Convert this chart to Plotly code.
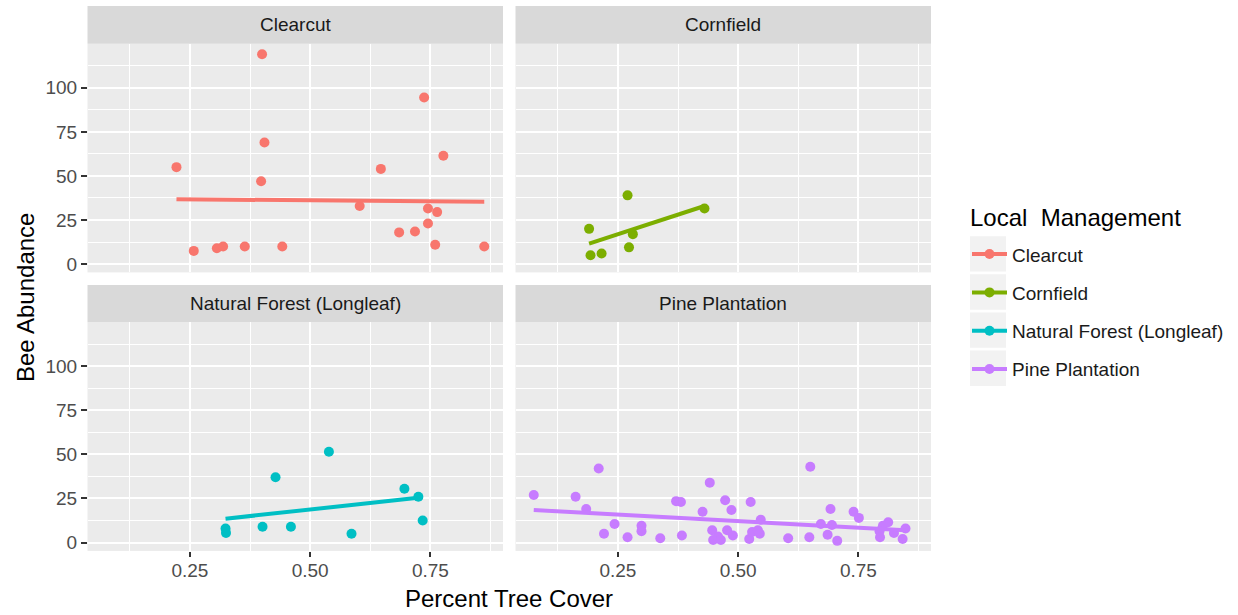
import numpy as np
import plotly.graph_objects as go
from plotly.subplots import make_subplots

W, H = 1238, 615

groups = ["Clearcut", "Cornfield", "Natural Forest (Longleaf)", "Pine Plantation"]
colors = ["#F8766D", "#7CAE00", "#00BFC4", "#C77CFF"]

clearcut_cover = [0.222, 0.258, 0.306, 0.319, 0.364, 0.398, 0.400, 0.405, 0.442, 0.603,
                  0.647, 0.685, 0.718, 0.737, 0.745, 0.745, 0.760, 0.764, 0.777, 0.862]
clearcut_bees = [55, 7.5, 9, 10, 10, 47, 119, 69, 10, 33,
                 54, 18, 18.5, 94.5, 31.5, 23, 11, 29.5, 61.5, 10]

cornfield_cover = [0.190, 0.193, 0.216, 0.270, 0.273, 0.281, 0.430]
cornfield_bees = [20, 5, 6, 39, 9.5, 17, 31.5]

forest_cover = [0.324, 0.325, 0.401, 0.428, 0.460, 0.539, 0.586, 0.696, 0.725, 0.734]
forest_bees = [8, 5.5, 9, 37, 9, 51.5, 5, 30.5, 26, 12.5]

pine_cover = [0.075, 0.162, 0.184, 0.210, 0.221, 0.243, 0.270, 0.299, 0.299, 0.338,
              0.371, 0.381, 0.383, 0.426, 0.441, 0.446, 0.448, 0.458, 0.464, 0.473,
              0.477, 0.486, 0.489, 0.523, 0.526, 0.529, 0.541, 0.545, 0.547, 0.604,
              0.648, 0.650, 0.672, 0.686, 0.692, 0.695, 0.706, 0.740, 0.751, 0.794,
              0.795, 0.801, 0.812, 0.824, 0.842, 0.848]
pine_bees = [27, 26, 19, 42, 5, 10.5, 3, 9.5, 6.5, 2.5,
             23.5, 23, 4, 17.5, 34, 7, 1.5, 3.5, 1.5, 24,
             7, 18.5, 4, 2, 23, 6, 7, 5, 13, 2.5,
             3, 43, 10.5, 4.5, 19, 10, 1, 17.5, 14, 6.5,
             3, 9.5, 11.5, 5.5, 2, 8]

xs = [clearcut_cover, cornfield_cover, forest_cover, pine_cover]
ys = [clearcut_bees, cornfield_bees, forest_bees, pine_bees]

x_ticks = [0.25, 0.50, 0.75]
x_tick_labels = ["0.25", "0.50", "0.75"]
x_minor = [0.125, 0.375, 0.625, 0.875]
y_ticks = [0, 25, 50, 75, 100]
y_tick_labels = ["0", "25", "50", "75", "100"]
y_minor = [12.5, 37.5, 62.5, 87.5, 112.5]

FONT = "Liberation Sans, Arial, Helvetica, sans-serif"

fig = make_subplots(rows=2, cols=2)
pos = [(1, 1), (1, 2), (2, 1), (2, 2)]

for i, g in enumerate(groups):
    r, c = pos[i]
    x = np.array(xs[i], dtype=float)
    y = np.array(ys[i], dtype=float)
    fig.add_trace(go.Scatter(x=x, y=y, mode="markers", legendgroup=g, showlegend=False,
                             marker=dict(color=colors[i], size=10, line=dict(width=0)),
                             hoverinfo="x+y"), row=r, col=c)
    slope, intercept = np.polyfit(x, y, 1)
    lx = np.array([x.min(), x.max()])
    fig.add_trace(go.Scatter(x=lx, y=intercept + slope * lx, mode="lines", legendgroup=g,
                             showlegend=False, line=dict(color=colors[i], width=4)),
                  row=r, col=c)

# legend entries
for i, g in enumerate(groups):
    fig.add_trace(go.Scatter(x=[None], y=[None], mode="lines+markers", name=g, legendgroup=g,
                             line=dict(color=colors[i], width=4),
                             marker=dict(color=colors[i], size=10)), row=1, col=1)

def px_x(p):
    return p / W

def px_y(p):
    return 1 - p / H

col_dom = [[px_x(87.5), px_x(503)], [px_x(515.5), px_x(931)]]
row_dom = [[px_y(273.3), px_y(44)], [px_y(552.7), px_y(323.3)]]
strip = [[px_y(44), px_y(6)], [px_y(323.3), px_y(286)]]

xr = [0.037, 0.901]
yr = [-4.7, 124.9]

for i in range(4):
    r, c = pos[i]
    sfx = "" if i == 0 else str(i + 1)
    bottom = r == 2
    left = c == 1
    fig.layout["xaxis" + sfx].update(
        domain=col_dom[c - 1], range=xr, tickvals=x_ticks, ticktext=x_tick_labels,
        showticklabels=bottom, ticks="outside" if bottom else "", ticklen=5.5, tickwidth=1.8,
        tickcolor="#333333", showgrid=True, gridcolor="white", gridwidth=2.2,
        zeroline=False, showline=False, ticklabelstandoff=-3,
        tickfont=dict(family=FONT, size=19, color="#4D4D4D"),
        minor=dict(tickvals=x_minor, showgrid=True, gridcolor="white", gridwidth=1.2, ticks=""),
        anchor="y" + sfx)
    fig.layout["yaxis" + sfx].update(
        domain=row_dom[r - 1], range=yr, tickvals=y_ticks, ticktext=y_tick_labels,
        showticklabels=left, ticks="outside" if left else "", ticklen=5.5, tickwidth=1.8,
        tickcolor="#333333", showgrid=True, gridcolor="white", gridwidth=2.2,
        zeroline=False, showline=False,
        tickfont=dict(family=FONT, size=19, color="#4D4D4D"),
        minor=dict(tickvals=y_minor, showgrid=True, gridcolor="white", gridwidth=1.2, ticks=""),
        anchor="x" + sfx)

shapes = []
annotations = []
for i, g in enumerate(groups):
    r, c = pos[i]
    shapes.append(dict(type="rect", xref="paper", yref="paper",
                       x0=col_dom[c - 1][0], x1=col_dom[c - 1][1],
                       y0=strip[r - 1][0], y1=strip[r - 1][1],
                       fillcolor="#D9D9D9", line=dict(width=0), layer="below"))
    annotations.append(dict(text=g, xref="paper", yref="paper",
                            x=(col_dom[c - 1][0] + col_dom[c - 1][1]) / 2,
                            y=(strip[r - 1][0] + strip[r - 1][1]) / 2,
                            xanchor="center", yanchor="middle", showarrow=False,
                            font=dict(family=FONT, size=19, color="#1A1A1A")))

# legend key backgrounds
key_centers = [254.7, 292.9, 331.2, 369.4]
for cy in key_centers:
    shapes.append(dict(type="rect", xref="paper", yref="paper",
                       x0=px_x(970), x1=px_x(1006), y0=px_y(cy + 17.8), y1=px_y(cy - 17.8),
                       fillcolor="#F2F2F2", line=dict(width=0), layer="below"))

annotations.append(dict(text="Percent Tree Cover", xref="paper", yref="paper",
                        x=px_x(509), y=px_y(600), xanchor="center", yanchor="middle",
                        showarrow=False, font=dict(family=FONT, size=24, color="#000000")))
annotations.append(dict(text="Bee Abundance", xref="paper", yref="paper",
                        x=px_x(25), y=px_y(298), xanchor="center", yanchor="middle",
                        textangle=-90, showarrow=False,
                        font=dict(family=FONT, size=24, color="#000000")))
annotations.append(dict(text="Local\u00a0 Management", xref="paper", yref="paper",
                        x=px_x(968), y=px_y(218), xanchor="left", yanchor="middle",
                        showarrow=False, font=dict(family=FONT, size=24, color="#000000")))

fig.update_layout(
    width=W, height=H, margin=dict(l=0, r=0, t=0, b=0),
    paper_bgcolor="white", plot_bgcolor="#EBEBEB",
    shapes=shapes, annotations=annotations,
    showlegend=True,
    legend=dict(font=dict(family=FONT, size=19, color="#1A1A1A"),
                x=px_x(967), y=px_y(236), xanchor="left", yanchor="top",
                bgcolor="rgba(0,0,0,0)", tracegroupgap=10.6, traceorder="grouped",
                itemwidth=35),
    font=dict(family=FONT),
)

fig.write_html("out.html", config={"displayModeBar": False},
               post_script="document.body.style.margin='0';document.body.style.padding='0';")
